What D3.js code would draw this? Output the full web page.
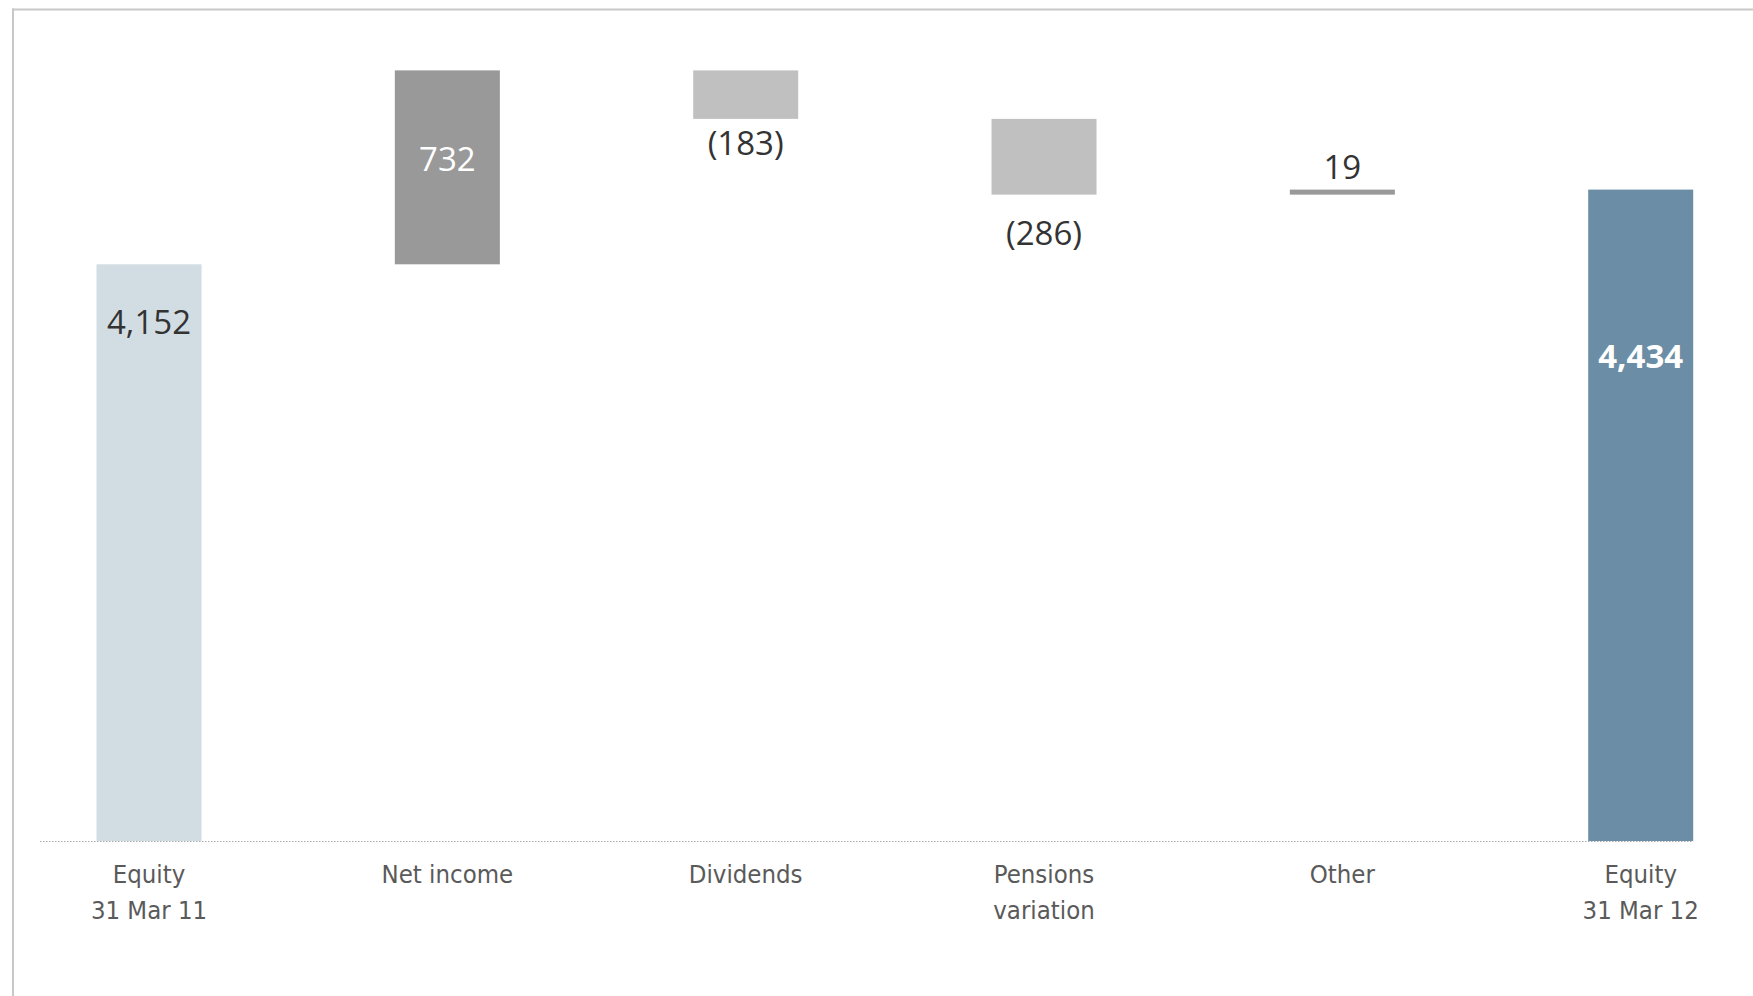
<!DOCTYPE html>
<html>
<head>
<meta charset="utf-8">
<script src="https://cdn.jsdelivr.net/npm/d3@7"></script>
<style>
  html, body { margin: 0; padding: 0; background: #ffffff; }
  svg { display: block; }
  .cat { font-family: "DejaVu Sans Condensed", "Liberation Sans Narrow", sans-serif; font-size: 25.5px; fill: #5a5a5a; }
  .val { font-family: "Open Sans", "Noto Sans", sans-serif; font-size: 33px; }
</style>
</head>
<body>
<svg id="chart" width="1753" height="996"></svg>
<script>
// Equity bridge, 31 Mar 11 -> 31 Mar 12
const categories = ["eq11", "netIncome", "dividends", "pensions", "other", "eq12"];
const categoryLines = [
  ["Equity", "31 Mar 11"],
  ["Net income"],
  ["Dividends"],
  ["Pensions", "variation"],
  ["Other"],
  ["Equity", "31 Mar 12"]
];
const values = [4152, 732, -183, -286, 19, 4434];
const kinds = ["total", "delta", "delta", "delta", "delta", "total"];

// Bar colours
const barColors = ["#d1dde3", "#999999", "#c0c0c0", "#c0c0c0", "#999999", "#6b8ea6"];

// Label placement per bar: anchor edge, offset and styling
const labelStyle = [
  { at: "top", dy: 70, fill: "#333333", weight: 400 },
  { at: "mid", dy: 4, fill: "#ffffff", weight: 400 },
  { at: "bottom", dy: 36, fill: "#333333", weight: 400 },
  { at: "bottom", dy: 50, fill: "#333333", weight: 400 },
  { at: "top", dy: -11, fill: "#333333", weight: 400 },
  { at: "top", dy: 178, fill: "#ffffff", weight: 700 }
];

const svg = d3.select("#chart");
const W = 1753, H = 996;

// Truncated value axis: the bottom of the plot is not zero
const axisFloor = 1975;
const y = d3.scaleLinear().domain([axisFloor, 4884]).range([841, 70.4]);
const x = d3.scaleBand().domain(categories).range([96.5, 1693.2]).paddingInner(0.648).paddingOuter(0);

// Waterfall segments
let running = 0;
const bars = categories.map((c, i) => {
  let lo, hi;
  if (kinds[i] === "total") {
    running = values[i];
    lo = axisFloor; hi = values[i];
  } else {
    const start = running;
    running += values[i];
    lo = Math.min(start, running); hi = Math.max(start, running);
  }
  return { key: c, i, lo, hi, value: values[i] };
});

const fmt = d3.format(",");
const labelText = v => v < 0 ? "(" + fmt(-v) + ")" : fmt(v);
const cx = k => x(k) + x.bandwidth() / 2;

// Frame lines (top and left)
svg.append("line").attr("x1", 12).attr("x2", W).attr("y1", 9.5).attr("y2", 9.5)
  .attr("stroke", "#c8c8c8").attr("stroke-width", 2);
svg.append("line").attr("x1", 13).attr("x2", 13).attr("y1", 8.5).attr("y2", H)
  .attr("stroke", "#c8c8c8").attr("stroke-width", 2);

// Dotted baseline
svg.append("line")
  .attr("x1", 40).attr("x2", x("eq12") + x.bandwidth())
  .attr("y1", y(axisFloor) + 0.5).attr("y2", y(axisFloor) + 0.5)
  .attr("stroke", "#aaaaaa").attr("stroke-width", 1.2)
  .attr("stroke-dasharray", "1.5,1.5");

// Bars
svg.append("g").selectAll("rect").data(bars).join("rect")
  .attr("x", d => x(d.key))
  .attr("width", x.bandwidth())
  .attr("y", d => y(d.hi))
  .attr("height", d => Math.max(1, y(d.lo) - y(d.hi)))
  .attr("fill", d => barColors[d.i]);

// Value labels
svg.append("g").selectAll("text").data(bars).join("text")
  .attr("class", "val")
  .attr("text-anchor", "middle")
  .attr("x", d => cx(d.key))
  .attr("y", d => {
    const s = labelStyle[d.i];
    if (s.at === "top") return y(d.hi) + s.dy;
    if (s.at === "bottom") return y(d.lo) + s.dy;
    return (y(d.hi) + y(d.lo)) / 2 + s.dy;
  })
  .attr("fill", d => labelStyle[d.i].fill)
  .attr("font-weight", d => labelStyle[d.i].weight)
  .text(d => labelText(d.value));

// Category labels
const cats = svg.append("g").selectAll("text").data(bars).join("text")
  .attr("class", "cat")
  .attr("text-anchor", "middle")
  .attr("x", d => cx(d.key))
  .attr("y", 883);
cats.selectAll("tspan").data(d => categoryLines[d.i].map(t => ({ t, px: cx(d.key) })))
  .join("tspan")
  .attr("x", d => d.px)
  .attr("dy", (d, j) => j === 0 ? 0 : 36)
  .text(d => d.t);
</script>
</body>
</html>
